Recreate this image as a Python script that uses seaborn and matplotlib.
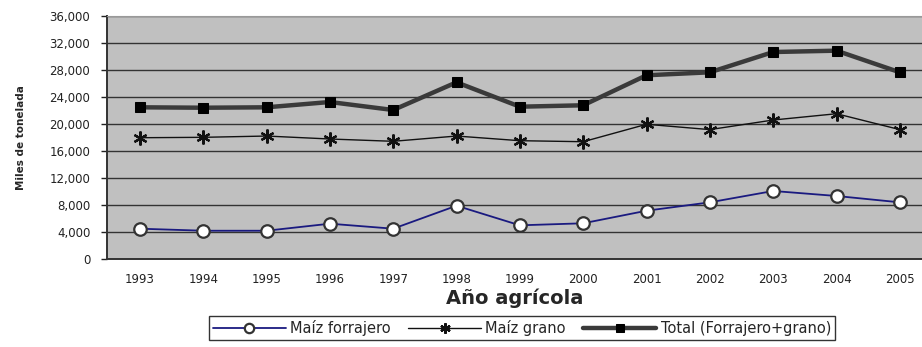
import numpy as np
import pandas as pd
import matplotlib
matplotlib.use("Agg")
import matplotlib.pyplot as plt
import seaborn as sns
from matplotlib.ticker import FixedLocator, FuncFormatter

years = [1993, 1994, 1995, 1996, 1997, 1998, 1999, 2000, 2001, 2002, 2003, 2004, 2005]
forrajero = [4530, 4230, 4230, 5270, 4530, 7930, 5030, 5330, 7190, 8430, 10110, 9370, 8430]
grano = [17990, 18050, 18240, 17800, 17460, 18240, 17550, 17400, 19980, 19190, 20610, 21540, 19190]
total = [22490, 22430, 22490, 23275, 22090, 26190, 22580, 22790, 27230, 27670, 30670, 30870, 27670]
y_ticks = [0, 4000, 8000, 12000, 16000, 20000, 24000, 28000, 32000, 36000]

sns.set_style("white")
plt.rcParams['font.family'] = ['DejaVu Sans']

fig = plt.figure(figsize=(9.22, 3.47), dpi=100)
ax = fig.add_axes([0.116, 0.2527, 0.884, 0.7012])
ax.set_facecolor("#c0c0c0")

asterisk = (6, 2, 0)
sns.lineplot(x=years, y=forrajero, ax=ax, color="#1a1a80", lw=1.3,
             marker="o", markersize=9, markerfacecolor="white",
             markeredgecolor="#333333", markeredgewidth=1.6,
             label="Maíz forrajero", zorder=4)
sns.lineplot(x=years, y=grano, ax=ax, color="#111111", lw=1.0,
             marker=asterisk, markersize=10, markeredgecolor="#111111",
             markeredgewidth=1.6, label="Maíz grano", zorder=4)
sns.lineplot(x=years, y=total, ax=ax, color="#3a3a3a", lw=3.2,
             marker="s", markersize=7, markerfacecolor="black",
             markeredgecolor="black", label="Total (Forrajero+grano)", zorder=4)

ax.set_xlim(1992.48, 2005.35)
ax.set_ylim(0, 36000)
ax.set_xticks(years)
ax.xaxis.set_minor_locator(FixedLocator([y + 0.5 for y in [1992] + years]))
ax.set_yticks(y_ticks)
ax.yaxis.set_major_formatter(FuncFormatter(lambda v, p: f"{int(v):,}"))
ax.grid(axis="y", color="#333333", lw=1.0)
ax.set_axisbelow(True)
ax.tick_params(axis="x", which="major", length=0, labelsize=8.5, pad=10, colors="#222222")
ax.tick_params(axis="x", which="minor", length=4, width=1.2, color="#333333", direction="out")
ax.tick_params(axis="y", length=4, width=1, labelsize=8.5, pad=8, colors="#222222", direction="out", left=True)

for side in ["left", "bottom"]:
    ax.spines[side].set_color("#333333")
    ax.spines[side].set_linewidth(1.4)
ax.spines["top"].set_color("#999999")
ax.spines["right"].set_visible(False)

ax.set_ylabel("Miles de tonelada", fontsize=7.5, fontweight="bold", labelpad=17)
ax.set_xlabel("Año agrícola", fontsize=14, fontweight="bold", labelpad=2)

leg = ax.legend(loc="center", bbox_to_anchor=(0.566, 0.055), bbox_transform=fig.transFigure,
                ncol=3, frameon=True, fancybox=False, fontsize=10.5, handlelength=5.0,
                columnspacing=1.2, handletextpad=0.3, borderpad=0.25, markerscale=0.75)
leg.get_frame().set_edgecolor("black")
leg.get_frame().set_linewidth(1.0)

fig.savefig("out.png", dpi=100)
